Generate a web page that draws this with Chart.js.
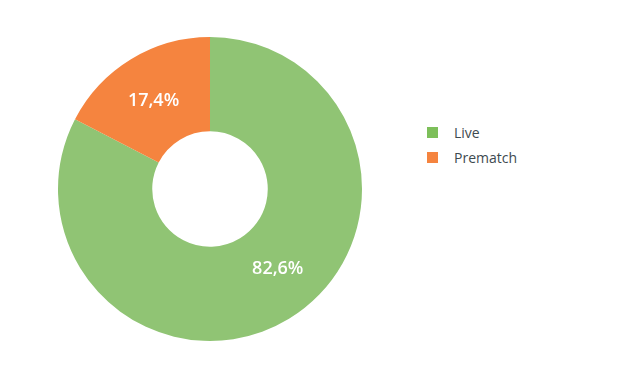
<!DOCTYPE html>
<html>
<head>
<meta charset="utf-8">
<script src="https://cdn.jsdelivr.net/npm/chart.js@4/dist/chart.umd.min.js"></script>
<style>
  html, body { margin: 0; padding: 0; background: #ffffff; }
  #wrap { position: relative; width: 618px; height: 389px; }
  #chartBox { position: absolute; left: 0; top: 0; width: 420px; height: 389px; }
  #legend { position: absolute; left: 427px; top: 120px; font-family: "Open Sans", sans-serif; font-size: 14px; color: #3e4a50; }
  .item { display: flex; align-items: center; height: 25px; }
  .sw { width: 11px; height: 11px; margin-right: 16px; }
</style>
</head>
<body>
<div id="wrap">
  <div id="chartBox"><canvas id="c"></canvas></div>
  <div id="legend"></div>
</div>
<script>
const categories = ["Live", "Prematch"];
const shares = [82.6, 17.4];
const valueLabels = ["82,6%", "17,4%"];
const sliceColors = ["#90c474", "#f5843f"];
const legendColors = ["#7dbf5a", "#f5843f"];
const labelAngleFrac = [0.47, 0.48];

const sliceLabels = {
  id: 'sliceLabels',
  afterDatasetsDraw(chart) {
    const ctx = chart.ctx;
    const meta = chart.getDatasetMeta(0);
    ctx.save();
    ctx.fillStyle = '#ffffff';
    ctx.font = '600 18px "Open Sans", sans-serif';
    ctx.textAlign = 'center';
    ctx.textBaseline = 'middle';
    meta.data.forEach((arc, i) => {
      const p = arc.getProps(['x','y','startAngle','endAngle','innerRadius','outerRadius'], true);
      const a = p.startAngle + (p.endAngle - p.startAngle) * labelAngleFrac[i];
      const r = (p.innerRadius + p.outerRadius) / 2;
      ctx.fillText(valueLabels[i], p.x + Math.cos(a) * r, p.y + Math.sin(a) * r);
    });
    ctx.restore();
  }
};

new Chart(document.getElementById('c'), {
  type: 'doughnut',
  data: {
    labels: categories,
    datasets: [{ data: shares, backgroundColor: sliceColors, borderWidth: 0, hoverOffset: 0 }]
  },
  options: {
    responsive: true,
    maintainAspectRatio: false,
    animation: false,
    cutout: '38%',
    layout: { padding: { top: 37, bottom: 48, left: 58, right: 58 } },
    plugins: { legend: { display: false }, tooltip: { enabled: false } }
  },
  plugins: [sliceLabels]
});

const lg = document.getElementById('legend');
categories.forEach((name, i) => {
  const it = document.createElement('div');
  it.className = 'item';
  const sw = document.createElement('div');
  sw.className = 'sw';
  sw.style.background = legendColors[i];
  const tx = document.createElement('span');
  tx.textContent = name;
  it.appendChild(sw); it.appendChild(tx);
  lg.appendChild(it);
});
</script>
</body>
</html>
